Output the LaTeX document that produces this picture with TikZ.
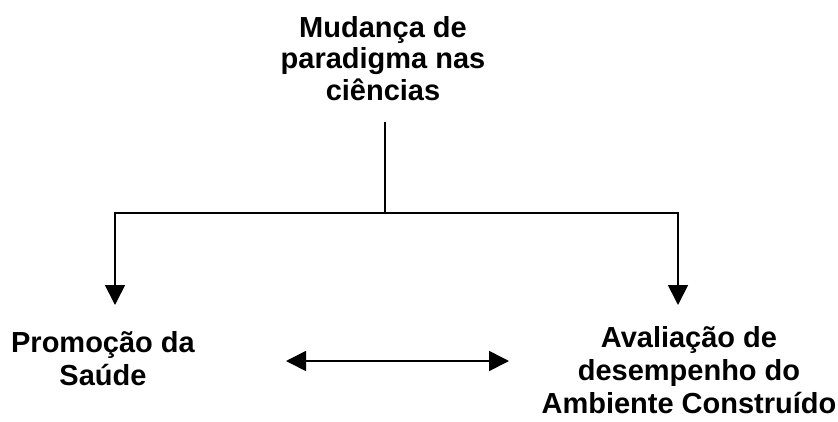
\documentclass[tikz,border=0pt]{standalone}
\usepackage{fontspec}
\setmainfont{Liberation Sans}
\usetikzlibrary{arrows.meta}
\begin{document}
\begin{tikzpicture}[x=1pt,y=-1pt,
  lbl/.style={font=\bfseries\fontsize{29}{33}\selectfont, align=center, inner sep=0pt},
  conn/.style={line width=1.7pt},
  tip/.style={-{Triangle[length=20pt,width=20pt]}},
  dtip/.style={{Triangle[length=20pt,width=20pt]}-{Triangle[length=20pt,width=20pt]}}]
\useasboundingbox (0,0) rectangle (838,421);
\node[lbl, font=\bfseries\fontsize{29}{31.5}\selectfont, anchor=base] (top) at (383,100) {Mudança de\\paradigma nas\\ciências};
\node[lbl, anchor=base] (left) at (103,385) {Promoção da\\Saúde};
\node[lbl, anchor=base] (right) at (689,413) {Avaliação de\\desempenho do\\Ambiente Construído};
\coordinate (ts) at (385,122);
\coordinate (j) at (385,213);
\coordinate (lt) at (115,305);
\coordinate (rt) at (678,305);
\coordinate (da) at (286,361);
\coordinate (db) at (509,361);
\draw[conn] (ts) -- (j);
\draw[conn, tip] (j) -| (lt);
\draw[conn, tip] (j) -| (rt);
\draw[conn, dtip] (da) -- (db);
\end{tikzpicture}
\end{document}
